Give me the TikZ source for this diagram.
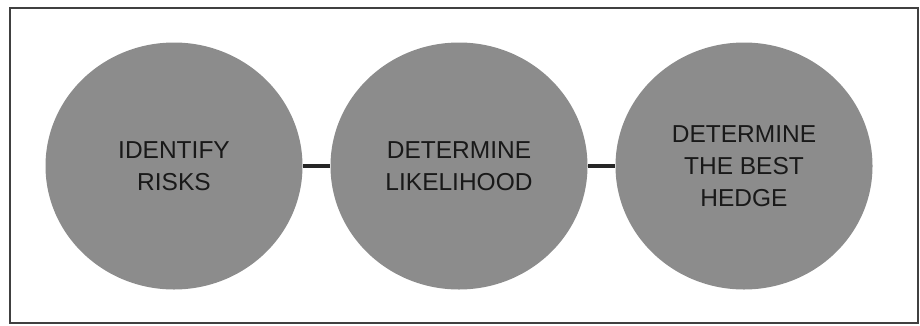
\documentclass[tikz,border=0pt]{standalone}
\usepackage{fontspec}
\setmainfont{Liberation Sans}
\usepackage{tikz}
\usetikzlibrary{positioning,shapes.geometric}

\tikzset{
  stage/.style = {ellipse, draw = none, fill = black!45, inner sep = 0pt,
                  minimum width = 257pt, minimum height = 247pt,
                  align = center, text = black!90,
                  font = \fontsize{24.5}{32}\selectfont},
  link/.style  = {line width = 4pt, black!85}
}

\begin{document}
\begin{tikzpicture}[x = 1pt, y = -1pt, node distance = 285pt]
  \useasboundingbox (0,0) rectangle (920,325);
  \draw[black!75, line width = 1.5pt] (10,8) rectangle (918,323);

  \node[stage] at (174,166) (1) {IDENTIFY\\RISKS};
  \node[stage, right of = 1] (2) {DETERMINE\\LIKELIHOOD};
  \node[stage, right of = 2] (3) {DETERMINE\\THE BEST\\HEDGE};

  \draw[link] (1) to (2);
  \draw[link] (2) to (3);
\end{tikzpicture}
\end{document}
